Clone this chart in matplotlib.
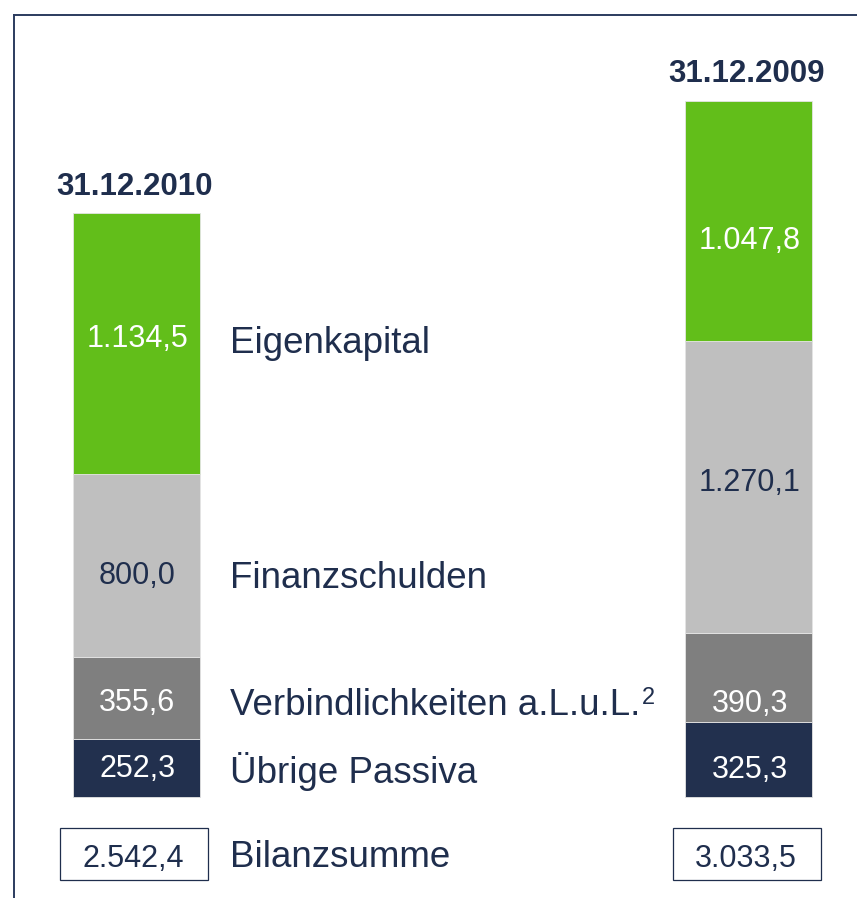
import matplotlib
matplotlib.use("Agg")
import matplotlib.pyplot as plt
from matplotlib.patches import Rectangle

plt.rcParams['font.family'] = ['Liberation Sans', 'DejaVu Sans']

# Data (Mio. EUR), bottom to top
dates = ['31.12.2010', '31.12.2009']
categories = ['Übrige Passiva', 'Verbindlichkeiten a.L.u.L.', 'Finanzschulden', 'Eigenkapital']
values_2010 = [252.3, 355.6, 800.0, 1134.5]
values_2009 = [325.3, 390.3, 1270.1, 1047.8]

colors = ['#22304e', '#7f7f7f', '#bfbfbf', '#62be1a']
value_colors = ['white', 'white', '#1f2e4d', 'white']
navy = '#1f2e4d'

# label baselines in data units (bottom to top), as placed in the original
label_y = [[87, 375, 928, 1960], [83, 370, 1333, 2387]]
category_y = [61, 357, 910, 1934]
total_y = -307


def de_format(v):
    s = f"{v:,.1f}"
    return s.replace(",", "X").replace(".", ",").replace("X", ".")


# pixel scales used to build the layout
px_x = 612.5      # pixels per x unit
px_y = 0.2296     # pixels per value unit

fig = plt.figure(figsize=(8.57, 8.98), dpi=100)
ax = fig.add_axes([14 / 857, 0, 843 / 857, 883 / 898])
ax.set_xlim(-122 / px_x, 721 / px_x)
ax.set_ylim(-101 / px_y, 782 / px_y)
ax.set_xticks([])
ax.set_yticks([])
for side in ['right', 'bottom']:
    ax.spines[side].set_visible(False)
for side in ['top', 'left']:
    ax.spines[side].set_color('#2b3b5e')
    ax.spines[side].set_linewidth(1.4)

bar_w = 127 / px_x
series = [values_2010, values_2009]
for i, vals in enumerate(series):
    bottom = 0
    for j, v in enumerate(vals):
        ax.bar(i, v, width=bar_w, bottom=bottom, color=colors[j],
               edgecolor='#e4e4e4', linewidth=0.6)
        ax.text(i + 0.002, label_y[i][j], de_format(v), ha='center', va='baseline',
                fontsize=22, color=value_colors[j])
        bottom += v
    total = sum(vals)
    # date header above the bar
    ax.text(i - 0.003, total + 80, dates[i], ha='center', va='baseline',
            fontsize=22.5, fontweight='bold', color=navy)
    # total box
    ax.add_patch(Rectangle((i - 0.124, -361), 0.242, 226, fill=False,
                           edgecolor=navy, linewidth=0.9))
    ax.text(i - 0.004, total_y, de_format(total), ha='center', va='baseline',
            fontsize=22, color=navy)

cat_x = 0.1535
for j, cat in enumerate(categories):
    t = ax.text(cat_x, category_y[j], cat, ha='left', va='baseline',
                fontsize=26.5, color=navy)
    if j == 1:
        ax.annotate('2', xy=(1, 0), xycoords=t, xytext=(1, 14),
                    textcoords='offset points', ha='left', va='baseline',
                    fontsize=17, color=navy)
ax.text(cat_x, total_y, 'Bilanzsumme', ha='left', va='baseline',
        fontsize=26.5, color=navy)

fig.savefig('out.png', dpi=100)
